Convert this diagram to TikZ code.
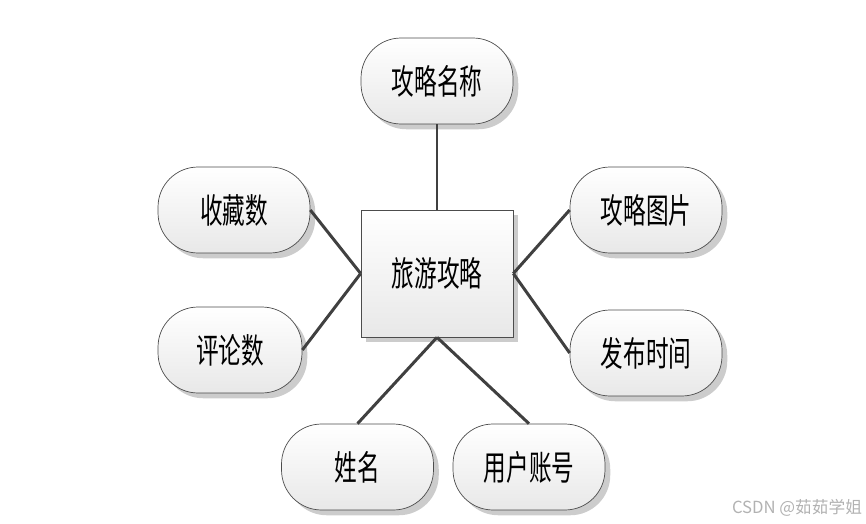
\documentclass[tikz,border=0pt]{standalone}
\usepackage{fontspec}
\newfontfamily\cjk{Noto Sans CJK SC}
\usetikzlibrary{shadows}
\definecolor{linkgray}{RGB}{64,64,64}
\newcommand{\tallcjk}[1]{\scalebox{0.92}[1.4]{#1}}

\begin{document}
\begin{tikzpicture}[x=0.02cm, y=-0.02cm,
  attr/.style={draw=black!70, rounded corners=0.8cm, top color=white, bottom color=black!9,
               minimum width=3.04cm, minimum height=1.72cm,
               font=\cjk\fontsize{14}{16}\selectfont,
               drop shadow={fill=black!20, opacity=1, shadow xshift=3pt, shadow yshift=-3pt}},
  entity/.style={draw=black!70, top color=white, bottom color=black!9,
                 minimum width=3.04cm, minimum height=2.54cm,
                 font=\cjk\fontsize{14}{16}\selectfont,
                 drop shadow={fill=black!20, opacity=1, shadow xshift=3pt, shadow yshift=-3pt}},
  link/.style={draw=linkgray, line width=1.7pt}
]
  \useasboundingbox (0,0) rectangle (866,524);

  %% centre entity
  \node[entity] (trip) at (437,273.5) {\tallcjk{旅游攻略}};

  %% attributes round it
  \node[attr] (title)  at (437,81)    {\tallcjk{攻略名称}};
  \node[attr] (fav)    at (234,210)   {\tallcjk{收藏数}};
  \node[attr, minimum width=2.88cm] (cmt) at (230,350) {\tallcjk{评论数}};
  \node[attr] (pic)    at (646,210)   {\tallcjk{攻略图片}};
  \node[attr] (time)   at (646,353)   {\tallcjk{发布时间}};
  \node[attr] (name)   at (357.5,467) {\tallcjk{姓名}};
  \node[attr] (acct)   at (529,467)   {\tallcjk{用户账号}};

  %% links
  \draw[link] (title.south) -- (trip.north);
  \draw[link] (fav.east)  -- (trip.west);
  \draw[link] (cmt.east)  -- (trip.west);
  \draw[link] (pic.west)  -- (trip.east);
  \draw[link] (time.west) -- (trip.east);
  \draw[link] (trip.south) -- (name.north);
  \draw[link] (trip.south) -- (acct.north);

  %% watermark
  \node[font=\cjk\fontsize{9.5}{11}\selectfont, text=black!30] (mark) at (797,508) {CSDN @茹茹学姐};
\end{tikzpicture}
\end{document}
